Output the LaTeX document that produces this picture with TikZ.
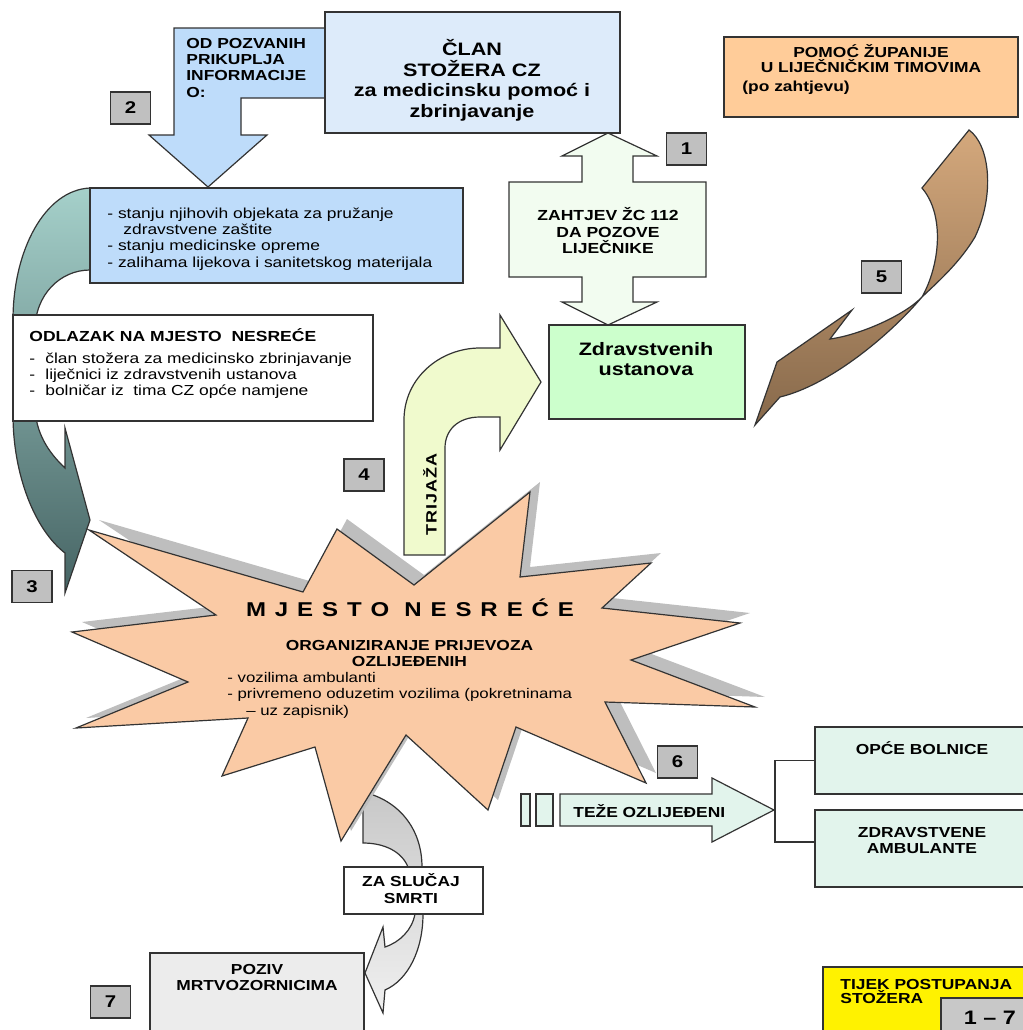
\documentclass[tikz,border=0pt]{standalone}
\usepackage{fontspec}
\setmainfont{Liberation Sans}[FakeStretch=1.2]
\usetikzlibrary{calc}

\definecolor{clanblue}{RGB}{221,235,250}
\definecolor{skyblue}{RGB}{190,220,250}
\definecolor{reqgreen}{RGB}{242,252,240}
\definecolor{zgreen}{RGB}{204,255,204}
\definecolor{orangebox}{RGB}{255,204,153}
\definecolor{tealtop}{RGB}{165,208,202}
\definecolor{tealbot}{RGB}{70,100,100}
\definecolor{burst}{RGB}{250,202,165}
\definecolor{burstshadow}{RGB}{190,190,190}
\definecolor{triage}{RGB}{240,250,205}
\definecolor{mint}{RGB}{226,244,236}
\definecolor{lgray}{RGB}{236,236,236}
\definecolor{numgray}{RGB}{192,192,192}
\definecolor{rangegray}{RGB}{200,200,200}
\definecolor{browntop}{RGB}{212,168,124}
\definecolor{brownbot}{RGB}{135,105,75}
\definecolor{deathtop}{RGB}{200,200,200}
\definecolor{deathbot}{RGB}{240,240,240}

% outline of the accident-site burst (pixel units, y downwards)
\newcommand{\burstoutline}{(89,530) -- (303,592) -- (337,529) -- (414,585) -- (530,492) -- (520,577) -- (651,563) -- (602,608) -- (740,623) -- (631,660) -- (755,707) -- (605,702) -- (646,783) -- (516,727) -- (488,810) -- (406,735) -- (341,841) -- (315,747) -- (222,776) -- (248,718) -- (76,728) -- (188,682) -- (72,632) -- (216,615) -- cycle}

\begin{document}
\begin{tikzpicture}[x=0.5pt,y=-0.5pt,
  outline/.style={draw=black!80, line width=0.6pt},
  plainbox/.style={outline, rectangle, inner sep=0pt},
  numbox/.style={plainbox, fill=numgray, minimum width=20pt, minimum height=16pt,
                 font=\bfseries\fontsize{8.5}{10}\selectfont},
  txt/.style={inner sep=0pt, font=\bfseries\fontsize{7.25}{8.15}\selectfont},
  plain/.style={inner sep=0pt, font=\fontsize{7.25}{8.15}\selectfont},
]
\useasboundingbox (0,0) rectangle (1023,1030);
\clip (0,0) rectangle (1023,1030);

% ---------- curved teal arrow on the left (step 3)
\draw[outline, top color=tealtop, bottom color=tealbot]
  (90,188) .. controls (45,190) and (13,250) .. (13,320) -- (13,415)
  .. controls (13,475) and (35,530) .. (65,553) -- (65,593) -- (90,520)
  -- (65,428) -- (65,468) .. controls (48,452) and (35,432) .. (35,405)
  -- (35,330) .. controls (35,295) and (60,270) .. (90,270) -- cycle;

% ---------- information gathering (step 2)
\draw[outline, fill=skyblue]
  (174,28) -- (325,28) -- (325,98) -- (241,98) -- (241,135) -- (267,135)
  -- (208,187) -- (149,135) -- (174,135) -- cycle;
\node[txt, align=left, anchor=north west] (odtxt) at (186,37.7)
  {OD POZVANIH\\PRIKUPLJA\\INFORMACIJE\\O:};

\node[plainbox, fill=clanblue, minimum width=147.5pt, minimum height=60.5pt] (clan) at (472.5,72.5) {};
\node[txt, font=\bfseries\fontsize{9}{10.25}\selectfont, align=center, anchor=north] (clantxt) at (472,39.3)
  {ČLAN\\STOŽERA CZ\\za medicinsku pomoć i\\zbrinjavanje};

\node[plainbox, fill=skyblue, minimum width=186.5pt, minimum height=47.5pt] (info) at (276.5,235.5) {};
\node[plain, align=left, anchor=north west] (infotxt) at (107,207.4)
  {- stanju njihovih objekata za pružanje\\\hspace*{8pt}zdravstvene zaštite\\- stanju medicinske opreme\\- zalihama lijekova i sanitetskog materijala};

% ---------- departure to the site
\node[plainbox, fill=white, minimum width=180pt, minimum height=53pt] (odlazak) at (193,368) {};
\node[txt, font=\bfseries\fontsize{7.3}{8.2}\selectfont, anchor=north west] (odltitle) at (29,328.4)
  {ODLAZAK NA MJESTO\ \ NESREĆE};
\node[plain, font=\fontsize{7.25}{8}\selectfont, align=left, anchor=north west] (odllist) at (29,352.4)
  {\makebox[8pt][l]{-}član stožera za medicinsko zbrinjavanje\\\makebox[8pt][l]{-}liječnici iz zdravstvenih ustanova\\\makebox[8pt][l]{-}bolničar iz\ \ tima CZ opće namjene};

% ---------- case of death (step 7)
\draw[outline, top color=deathtop, bottom color=deathbot]
  (363,792) -- (363,843) .. controls (385,843) and (402,852) .. (408,867)
  -- (415,914) .. controls (412,930) and (400,942) .. (385,947) -- (383,927)
  -- (365,973) -- (383,1013) -- (385,990) .. controls (408,980) and (423,950) .. (423,914)
  -- (422,867) .. controls (422,828) and (398,800) .. (363,792) -- cycle;
\node[plainbox, fill=white, minimum width=69.5pt, minimum height=23.5pt] (zasl) at (413.5,890.5) {};
\node[txt, align=center, anchor=north] (zasltxt) at (411,873.5) {ZA SLUČAJ\\SMRTI};
\node[plainbox, fill=lgray, minimum width=107pt, minimum height=46pt] (poziv) at (257,999) {};
\node[txt, font=\bfseries\fontsize{7.25}{8}\selectfont, align=center, anchor=north] (pozivtxt) at (257,963.6) {POZIV\\MRTVOZORNICIMA};

% ---------- accident site
\fill[burstshadow, shift={(10,-10)}] \burstoutline;
\draw[outline, fill=burst] \burstoutline;
\node[inner sep=0pt, font=\bfseries\fontsize{10}{12}\selectfont, anchor=base] (bursttitle) at (410,616)
  {\makebox[164pt][s]{M\hfil J\hfil E\hfil S\hfil T\hfil O\hfil\hskip3pt N\hfil E\hfil S\hfil R\hfil E\hfil Ć\hfil E}};
\node[txt, font=\bfseries\fontsize{7.25}{8}\selectfont, align=center, anchor=north] (burstsub) at (409.5,639.6)
  {ORGANIZIRANJE PRIJEVOZA\\OZLIJEĐENIH};
\node[plain, font=\fontsize{7}{8.25}\selectfont, align=left, anchor=north west] (burstlist) at (227,671.8)
  {- vozilima ambulanti\\- privremeno oduzetim vozilima (pokretninama\\\hspace*{9.5pt}– uz zapisnik)};

% ---------- triage (step 4)
\draw[outline, fill=triage]
  (404,555) -- (404,420) .. controls (404,378) and (440,348) .. (480,348) -- (500,348)
  -- (500,315) -- (541,382) -- (500,450) -- (500,417) -- (480,417)
  .. controls (458,417) and (445,430) .. (445,448) -- (445,555) -- cycle;
\node[inner sep=0pt, font=\bfseries\fontsize{7.5}{9}\selectfont, rotate=90] (trijtxt) at (430,494)
  {\makebox[41pt][s]{T\hfil R\hfil I\hfil J\hfil A\hfil Ž\hfil A}};

% ---------- request to 112 (step 1)
\draw[outline, fill=reqgreen]
  (608,133) -- (657,156) -- (633,156) -- (633,182) -- (706,182) -- (706,277)
  -- (633,277) -- (633,302) -- (657,302) -- (608,325) -- (562,302) -- (582,302)
  -- (582,277) -- (509,277) -- (509,182) -- (582,182) -- (582,156) -- (562,156) -- cycle;
\node[txt, font=\bfseries\fontsize{7.3}{8.15}\selectfont, align=center, anchor=north] (reqtxt) at (608,207.4)
  {ZAHTJEV ŽC 112\\DA POZOVE\\LIJEČNIKE};

\node[plainbox, fill=zgreen, minimum width=98pt, minimum height=47pt] (zdrav) at (647,372) {};
\node[txt, font=\bfseries\fontsize{9}{10}\selectfont, align=center, anchor=north] (zdravtxt) at (646,342)
  {Zdravstvenih\\ustanova};

% ---------- county help (step 5)
\node[plainbox, fill=orangebox, minimum width=147pt, minimum height=40pt] (pomoc) at (871,77) {};
\node[txt, font=\bfseries\fontsize{7.25}{7.5}\selectfont, align=center, anchor=north] (pomoctxt) at (871,44.5)
  {POMOĆ ŽUPANIJE\\U LIJEČNIČKIM TIMOVIMA};
\node[txt, anchor=north west] (pomocnote) at (742,80.4) {(po zahtjevu)};

\draw[outline, top color=browntop, bottom color=brownbot]
  (969,130) .. controls (990,145) and (995,195) .. (975,237)
  .. controls (960,262) and (940,280) .. (922,297)
  .. controls (890,335) and (830,385) .. (780,397) -- (755,425) -- (777,362)
  -- (852,310) -- (830,339) .. controls (860,335) and (905,315) .. (922,297)
  .. controls (940,265) and (945,215) .. (922,188) -- cycle;

% ---------- seriously injured (step 6)
\draw[outline, fill=mint] (521,794) rectangle (530,826);
\draw[outline, fill=mint] (536,794) rectangle (553,826);
\draw[outline, fill=mint]
  (560,794) -- (712,794) -- (712,778) -- (774,810) -- (712,842) -- (712,826) -- (560,826) -- cycle;
\coordinate (tezetip) at (774,810);
\node[txt, anchor=base west] (tezetxt) at (573,817) {TEŽE OZLIJEĐENI};

\node[plainbox, fill=mint, minimum width=112.5pt, minimum height=33.5pt] (opce) at (927.5,760.5) {};
\node[plainbox, fill=mint, minimum width=112.5pt, minimum height=38.5pt] (zamb) at (927.5,848.5) {};
\node[txt, anchor=base] (opcetxt) at (922,754) {OPĆE BOLNICE};
\node[txt, font=\bfseries\fontsize{7.25}{8}\selectfont, align=center, anchor=north] (zambtxt) at (922,826.6)
  {ZDRAVSTVENE\\AMBULANTE};
\draw[outline] (tezetip) -- ++(1,0) |- (opce.west);
\draw[outline] (tezetip) -- ++(1,0) |- ($(zamb.west)+(0,-6.5)$);

% ---------- legend
\node[plainbox, fill=yellow, minimum width=108.5pt, minimum height=39pt] (tijek) at (931.5,1006) {};
\node[txt, font=\bfseries\fontsize{7.25}{7}\selectfont, align=left, anchor=north west] (tijektxt) at (840,978.6)
  {TIJEK POSTUPANJA\\STOŽERA};
\node[plainbox, fill=rangegray, minimum width=49.5pt, minimum height=23.5pt] (range) at (990.5,1021.5) {};
\node[inner sep=0pt, font=\bfseries\fontsize{9.75}{11}\selectfont, anchor=base] (rangetxt) at (990,1024) {1 – 7};

% ---------- step numbers
\node[numbox] (n1) at (686.5,149) {1};
\node[numbox] (n2) at (130.5,108) {2};
\node[numbox] (n3) at (32,586.5) {3};
\node[numbox] (n4) at (364,475) {4};
\node[numbox] (n5) at (881.5,277) {5};
\node[numbox] (n6) at (677.5,762) {6};
\node[numbox] (n7) at (110.5,1002) {7};
\end{tikzpicture}
\end{document}
